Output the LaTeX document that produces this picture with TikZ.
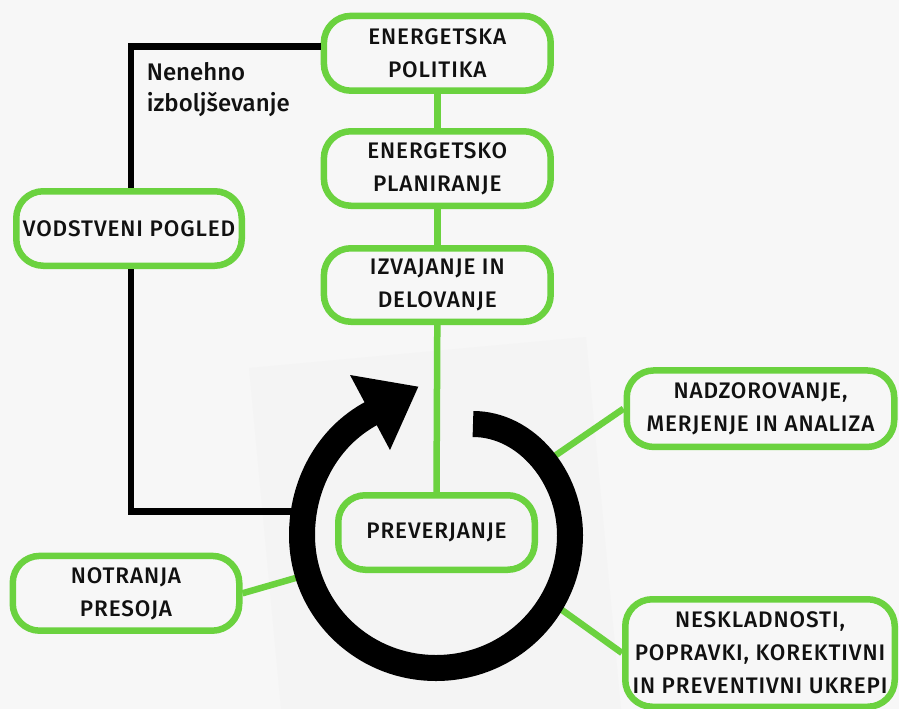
\documentclass[tikz,border=0pt]{standalone}
\usepackage{fontspec}
\setmainfont{Fira Sans Medium}
\newfontfamily\boxfont{Fira Sans Medium}[LetterSpace=4]
\usetikzlibrary{calc}
\definecolor{bg}{HTML}{F7F7F7}
\definecolor{imgbg}{HTML}{F4F4F4}
\definecolor{grn}{HTML}{6BD23F}
\definecolor{ink}{HTML}{111111}
\tikzset{
  box/.style={draw=grn, line width=6.5pt, rounded corners=27pt, align=center,
    inner sep=0pt, text=ink, font=\boxfont\fontsize{22.5}{33}\selectfont},
  gline/.style={draw=grn, line width=6.5pt},
  kline/.style={draw=black, line width=6.5pt, line join=miter},
  ring/.style={draw=black, line width=26pt, line cap=butt},
}
\begin{document}
\begin{tikzpicture}[x=1pt,y=-1pt]
\fill[bg] (0,0) rectangle (899,709);
\useasboundingbox (0,0) rectangle (899,709);
\fill[imgbg] (249,368) -- (586,337) -- (621,709) -- (281,709) -- cycle;

% nodes
\node[box, minimum width=226.8pt, minimum height=74.8pt] (pol) at (437.3,53.3) {ENERGETSKA\\POLITIKA};
\node[box, minimum width=226.8pt, minimum height=74.5pt] (plan) at (437.3,168.5) {ENERGETSKO\\PLANIRANJE};
\node[box, minimum width=226.8pt, minimum height=73.5pt] (izv) at (437.3,285) {IZVAJANJE IN\\DELOVANJE};
\node[box, minimum width=196.5pt, minimum height=74.5pt] (prev) at (436.5,532.5) {PREVERJANJE};
\node[box, minimum width=225.5pt, minimum height=74.5pt] (vod) at (129,228.5) {VODSTVENI POGLED};
\node[box, minimum width=226.5pt, minimum height=74.8pt] (notr) at (126,593.3) {NOTRANJA\\PRESOJA};
\node[box, minimum width=267.5pt, minimum height=76.5pt] (nadz) at (760.5,408.7) {NADZOROVANJE,\\MERJENJE IN ANALIZA};
\node[box, minimum width=269.5pt, minimum height=107.5pt] (nesk) at (760,653) {NESKLADNOSTI,\\POPRAVKI, KOREKTIVNI\\IN PREVENTIVNI UKREPI};

\node[anchor=base west, align=left, inner sep=0pt, text=ink,
  font=\fontsize{24}{31}\selectfont] (lab) at (146.7,111.7) {Nenehno\\izboljševanje};

% coordinates on the ring and corners
\coordinate (c1) at (131,46.7);
\coordinate (c2) at (131,511.7);
\coordinate (rl) at (300,511.7);
\coordinate (rn) at (306,575);
\coordinate (ra) at (545,462.6);
\coordinate (rb) at (555,605);

% connectors
\draw[gline] (pol.south) -- (plan.north);
\draw[gline] (plan.south) -- (izv.north);
\draw[gline] (izv.south) -- (prev.north);
\draw[gline] (notr.east) -- (rn);
\draw[gline] (nadz.west) -- (ra);
\draw[gline] (nesk.west) -- (rb);
\draw[kline] (c1 -| pol.west) -- (c1) -- (c1 |- vod.north);
\draw[kline] (c2 |- vod.south) -- (c2) -- (rl);

% circular arrow
\draw[ring] (473,424) .. controls (527,424) and (570,478) .. (570,535)
  .. controls (570,609) and (510,668) .. (436,668)
  .. controls (362,668) and (302,609) .. (302,535)
  .. controls (302,485) and (327,437) .. (372,413);
\fill[black] (418.3,386.7) -- (350,375) -- (390,450) -- cycle;
\end{tikzpicture}
\end{document}
